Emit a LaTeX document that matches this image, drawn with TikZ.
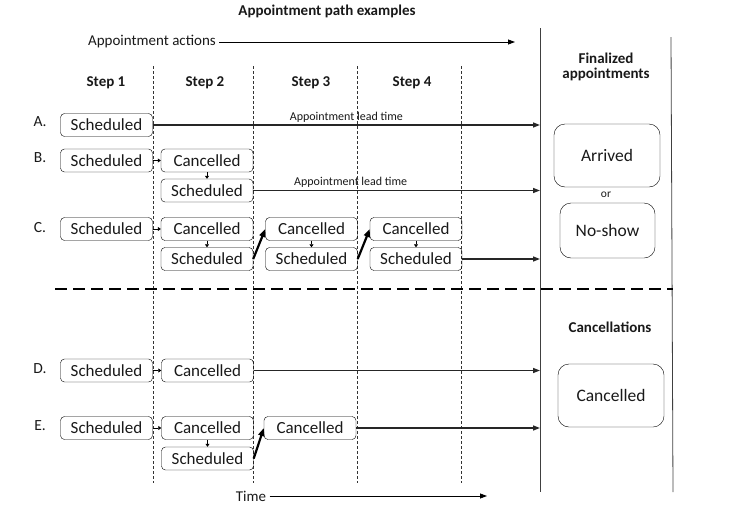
\documentclass[tikz,border=0pt]{standalone}
\usepackage{fontspec}
\setmainfont{Carlito}
\usetikzlibrary{arrows.meta}

\begin{document}
\begin{tikzpicture}[x=1pt,y=-1pt,>={Triangle[length=7pt,width=5pt]},line cap=butt,
  every node/.style={text=black!90},
  state/.style={draw,rounded corners=4pt,minimum width=92pt,minimum height=23pt,inner sep=0pt,font=\fontsize{17}{18}\selectfont},
  final/.style={draw,rounded corners=11pt,inner sep=0pt,font=\fontsize{17.5}{19}\selectfont},
  hdr/.style={font=\fontsize{15}{17}\selectfont\bfseries,align=center},
  rowlbl/.style={font=\fontsize{15.5}{17}\selectfont},
  lead/.style={font=\fontsize{12}{13}\selectfont,above=-1pt},
  track/.style={->,line width=1.4pt,black!85},
  jump/.style={-{Triangle[length=8pt,width=6pt]},line width=2.2pt},
  nudge/.style={-{Triangle[length=3pt,width=4pt]},line width=0.9pt},
  stepline/.style={dash pattern=on 3pt off 2pt,line width=0.6pt,black!80},
  wall/.style={line width=0.8pt,black!75}]
\useasboundingbox (0,0) rectangle (733,509);

% headings
\node[hdr] (title) at (327,11) {Appointment path examples};
\node[font=\fontsize{15}{17}\selectfont] (actions) at (152,42) {Appointment actions};
\coordinate (actionsend) at (515,42);
\draw[->,line width=0.8pt] (actions) -- (actionsend);
\node[hdr] (s1) at (106,83) {Step 1};
\node[hdr] (s2) at (205,83) {Step 2};
\node[hdr] (s3) at (311,83) {Step 3};
\node[hdr] (s4) at (412,83) {Step 4};
\node[hdr] (finalized) at (606,67) {Finalized\\[-2pt]appointments};
\node[hdr] (cancellations) at (610,327) {Cancellations};

% step and section lines
\foreach \x in {153,253,357,461}
  \draw[stepline] (\x,66) -- (\x,483);
\draw[wall] (540,28) -- (540,492);
\draw[wall] (671,37) -- (673,492);
\draw[line width=1.6pt,dash pattern=on 12pt off 6pt] (55,289) -- (673,289);
\coordinate (fin) at (540,0);

% A.
\node[rowlbl] (la) at (40,122) {A.};
\node[state] (a1) at (106.5,125) {Scheduled};
\draw[track] (a1.east) -- (a1.east -| fin) node[lead,pos=0.5] {Appointment lead time};

% B.
\node[rowlbl] (lb) at (40,158) {B.};
\node[state] (b1) at (106.5,160.5) {Scheduled};
\node[state] (b2) at (207,160.5) {Cancelled};
\node[state] (b3) at (207,190.5) {Scheduled};
\draw[nudge] (b1) -- (b2);
\draw[nudge] (b2) -- (b3);
\draw[track] (b3.east) -- (b3.east -| fin) node[lead,pos=0.34] {Appointment lead time};

% C.
\node[rowlbl] (lc) at (40,228) {C.};
\node[state] (c1) at (106.5,229) {Scheduled};
\node[state] (c2) at (207,229) {Cancelled};
\node[state] (c3) at (207,259) {Scheduled};
\node[state] (c4) at (311.5,229) {Cancelled};
\node[state] (c5) at (311.5,259) {Scheduled};
\node[state] (c6) at (416,229) {Cancelled};
\node[state] (c7) at (416,259) {Scheduled};
\draw[nudge] (c1) -- (c2);
\draw[nudge] (c2) -- (c3);
\draw[nudge] (c4) -- (c5);
\draw[nudge] (c6) -- (c7);
\draw[jump] (c3.east) -- (c4.west);
\draw[jump] (c5.east) -- (c6.west);
\draw[track] (c7.east) -- (c7.east -| fin);

% finalized appointments
\node[final,minimum width=106pt,minimum height=63pt] (arrived) at (607,155.5) {Arrived};
\node[font=\fontsize{11.5}{13}\selectfont] (or) at (606,195) {or};
\node[final,minimum width=95pt,minimum height=55pt] (noshow) at (607.5,230.5) {No-show};

% D.
\node[rowlbl] (ld) at (40,369) {D.};
\node[state] (d1) at (106.5,370.5) {Scheduled};
\node[state] (d2) at (207.5,370.5) {Cancelled};
\draw[nudge] (d1) -- (d2);
\draw[track] (d2.east) -- (d2.east -| fin);

% E.
\node[rowlbl] (le) at (40,426) {E.};
\node[state] (e1) at (106.5,428) {Scheduled};
\node[state] (e2) at (207.5,428) {Cancelled};
\node[state] (e3) at (207.5,458.5) {Scheduled};
\node[state] (e4) at (310,428) {Cancelled};
\draw[nudge] (e1) -- (e2);
\draw[nudge] (e2) -- (e3);
\draw[jump] (e3.east) -- (e4.west);
\draw[track] (e4.east) -- (e4.east -| fin);

% cancellations
\node[final,minimum width=106pt,minimum height=63pt] (cancelled) at (611,395.5) {Cancelled};

% time axis
\node[font=\fontsize{15}{17}\selectfont] (time) at (251,496) {Time};
\coordinate (timeend) at (487,496);
\draw[->,line width=0.8pt] (time) -- (timeend);
\end{tikzpicture}
\end{document}
